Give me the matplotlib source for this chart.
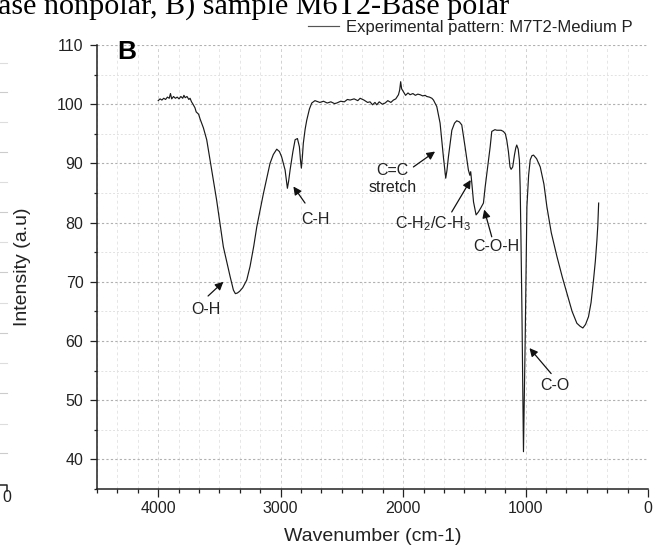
import matplotlib
matplotlib.use("Agg")
import matplotlib.pyplot as plt
from matplotlib.ticker import MultipleLocator
from matplotlib.lines import Line2D

plt.rcParams['font.family'] = ['Liberation Sans', 'DejaVu Sans']
plt.rcParams['mathtext.fontset'] = 'custom'
plt.rcParams['mathtext.rm'] = 'Liberation Sans'
plt.rcParams['mathtext.default'] = 'regular'

# ---- data ----
wavenumber = [4000, 3985, 3970, 3955, 3940, 3925, 3910, 3900, 3890, 3875, 3860, 3845, 3830,
              3815, 3800, 3790, 3780, 3765, 3750, 3740, 3728, 3716, 3700, 3690, 3670, 3658,
              3645, 3631, 3604, 3572, 3523, 3468, 3413, 3386, 3370, 3354, 3335, 3310, 3277,
              3250, 3220, 3195, 3141, 3087, 3060, 3032, 3010, 2992, 2964, 2952, 2945, 2935,
              2923, 2900, 2882, 2863, 2847, 2838, 2831, 2823, 2815, 2800, 2787, 2765, 2746,
              2720, 2706, 2680, 2650, 2620, 2590, 2560, 2542, 2510, 2480, 2455, 2433, 2400,
              2370, 2351, 2320, 2290, 2270, 2250, 2230, 2215, 2195, 2170, 2147, 2125, 2100,
              2079, 2060, 2038, 2028, 2020, 2012, 1997, 1980, 1960, 1943, 1920, 1900, 1880,
              1861, 1840, 1820, 1807, 1785, 1765, 1752, 1725, 1698, 1671, 1660, 1652, 1642,
              1630, 1602, 1580, 1562, 1540, 1521, 1494, 1467, 1455, 1448, 1438, 1425, 1404,
              1385, 1365, 1344, 1330, 1316, 1289, 1276, 1250, 1235, 1200, 1181, 1165, 1154,
              1140, 1127, 1118, 1105, 1090, 1080, 1072, 1060, 1050, 1044, 1038, 1030, 1022,
              1017, 1012, 1003, 996, 989, 975, 962, 948, 935, 910, 880, 850, 826, 790, 744,
              700, 663, 620, 581, 555, 532, 510, 486, 465, 445, 430, 417, 410, 403]
intensity = [100.6, 100.9, 100.7, 101.0, 100.8, 101.2, 101.0, 101.8, 100.9, 101.3, 101.0, 101.2, 100.9,
             101.3, 101.0, 101.5, 101.1, 101.3, 100.8, 101.0, 100.4, 100.0, 99.4, 98.7, 98.3, 97.5,
             96.8, 96.0, 94.0, 90.0, 83.8, 75.9, 70.9, 68.6, 68.0, 68.1, 68.4, 69.0, 70.3,
             72.6, 76.0, 79.3, 84.9, 90.0, 91.5, 92.4, 92.0, 91.1, 88.9, 87.0, 85.8, 87.0,
             88.9, 92.0, 94.0, 94.2, 92.8, 90.5, 89.2, 91.0, 93.4, 95.8, 97.3, 99.2, 100.2,
             100.6, 100.5, 100.3, 100.5, 100.2, 100.4, 100.1, 100.2, 100.5, 100.4, 100.8, 100.7, 100.9,
             100.6, 101.0, 100.7, 100.3, 100.4, 99.9, 100.3, 99.9, 100.4, 100.0, 100.2, 100.6, 100.3,
             100.7, 100.9, 101.6, 102.4, 103.8, 102.6, 102.1, 101.5, 101.9, 101.6, 101.8, 101.5, 101.7,
             101.6, 101.4, 101.5, 101.3, 101.2, 101.0, 100.7, 99.6, 96.8, 91.1, 89.0, 87.5, 88.8,
             91.1, 95.6, 96.8, 97.2, 97.0, 96.5, 92.8, 88.9, 88.0, 88.6, 86.5, 83.5, 81.3,
             81.8, 82.5, 83.3, 86.0, 88.3, 92.8, 95.4, 95.7, 95.6, 95.6, 95.4, 95.0, 94.0,
             92.0, 89.4, 89.0, 89.4, 91.5, 92.6, 93.1, 92.4, 90.5, 86.0, 78.0, 65.8, 50.0,
             41.3, 48.0, 60.2, 72.0, 82.7, 88.0, 90.6, 91.3, 91.4, 90.8, 89.4, 86.5, 82.7, 78.3, 74.3,
             70.8, 68.1, 65.0, 63.0, 62.5, 62.2, 62.8, 64.1, 66.5, 70.3, 73.5, 77.1, 79.5, 83.3]

series_label = "Experimental pattern: M7T2-Medium P"
x_ticks = [4000, 3000, 2000, 1000, 0]
y_ticks = [40, 50, 60, 70, 80, 90, 100, 110]

# annotations: (label, text position, arrow tail, arrow head) in data units
annotations = [
    ("O-H", (3610, 65.4), (3593, 67.6), (3468, 70.0)),
    ("C-H", (2719, 80.6), (2801, 83.3), (2896, 86.1)),
    ("C=C\nstretch", (2085, 87.4), (1916, 89.4), (1739, 92.0)),
    ("C-H$_2$/C-H$_3$", (1752, 79.8), (1603, 81.8), (1448, 87.2)),
    ("C-O-H", (1235, 75.9), (1276, 77.6), (1338, 82.2)),
    ("C-O", (758, 52.4), (791, 54.5), (968, 58.8)),
]

W, H = 667, 551
fig = plt.figure(figsize=(W / 100, H / 100), dpi=100)
ax = fig.add_axes([97 / W, 1 - 489 / H, (648 - 97) / W, (489 - 45) / H])

txt = '#222222'
ax.plot(wavenumber, intensity, color='#1a1a1a', lw=0.85, label=series_label)

ax.set_xlim(4500, 0)
ax.set_ylim(35, 110)
ax.set_xticks(x_ticks)
ax.set_yticks(y_ticks)
ax.xaxis.set_minor_locator(MultipleLocator(1000 / 6))
ax.yaxis.set_minor_locator(MultipleLocator(5))

for s in ['top', 'right']:
    ax.spines[s].set_visible(False)
for s in ['left', 'bottom']:
    ax.spines[s].set_linewidth(1.1)
    ax.spines[s].set_color('#222222')

ax.tick_params(axis='both', which='major', labelsize=11.5, colors=txt, width=0.9)
ax.tick_params(axis='y', which='major', length=4.8, pad=5)
ax.tick_params(axis='x', which='major', length=5.8, pad=3)
ax.tick_params(axis='y', which='minor', length=2.4, width=0.9, color=txt)
ax.tick_params(axis='x', which='minor', length=2.9, width=0.9, color=txt)

ax.grid(True, axis='y', which='major', linestyle=(0, (2, 2)), color='#b0b0b0', lw=0.8)
ax.grid(True, axis='y', which='minor', linestyle=(0, (2, 2)), color='#e2e2e2', lw=0.7)
ax.grid(True, axis='x', which='major', linestyle=(0, (3, 3)), color='#d0d0d0', lw=0.7)
ax.grid(True, axis='x', which='minor', linestyle=(0, (3, 3)), color='#e6e6e6', lw=0.7)
ax.set_axisbelow(True)

ax.set_xlabel("Wavenumber (cm-1)", fontsize=14, color=txt)
ax.set_ylabel("Intensity (a.u)", fontsize=14, color=txt)
ax.xaxis.set_label_coords(0.5, -0.088)
ax.yaxis.set_label_coords(-0.12, 0.5)

ax.text((127 - 97) / 551, (489 - 52) / 444, "B", transform=ax.transAxes, fontsize=19,
        fontweight='bold', ha='center', va='center', color='black')

for label, tpos, tail, head in annotations:
    ax.annotate('', xy=head, xytext=tail,
                arrowprops=dict(arrowstyle='-|>', color='#111111', lw=0.9,
                                mutation_scale=12, shrinkA=0, shrinkB=0))
    ax.text(tpos[0], tpos[1], label, ha='center', va='center', fontsize=11.5,
            color=txt, multialignment='center', linespacing=1.2)

leg = ax.legend(loc='center right', bbox_to_anchor=(0.972, 1.04), frameon=False,
                fontsize=12, handlelength=1.9, borderpad=0, borderaxespad=0,
                handletextpad=0.4)
for t in leg.get_texts():
    t.set_color(txt)
for h in leg.get_lines():
    h.set_color('#555555')

# cut-off caption and neighbouring panel fragments
fig.text(-2 / W, 1 - 13.5 / H, "ase nonpolar, B) sample M6T2-Base polar", fontsize=21.7,
         family=['Liberation Serif', 'DejaVu Serif'], va='baseline', ha='left', color='black')
for i, yp in enumerate([62.7, 91.7, 121.7, 151.7, 181.7, 211.7, 241.7, 271.7,
                        302.7, 333, 363, 393, 424, 453]):
    fig.add_artist(Line2D([0, 7 / W], [1 - yp / H] * 2, transform=fig.transFigure,
                          color='#cccccc' if i % 2 else '#dddddd', lw=0.8))
fig.add_artist(Line2D([0, 7 / W, 7 / W], [1 - 485 / H, 1 - 485 / H, 1 - 491 / H],
                      transform=fig.transFigure, color='#222222', lw=1.1))
fig.text(7 / W, 1 - 498 / H, "0", fontsize=11.5, ha='center', va='center', color=txt)

fig.savefig("out.png", dpi=100)
